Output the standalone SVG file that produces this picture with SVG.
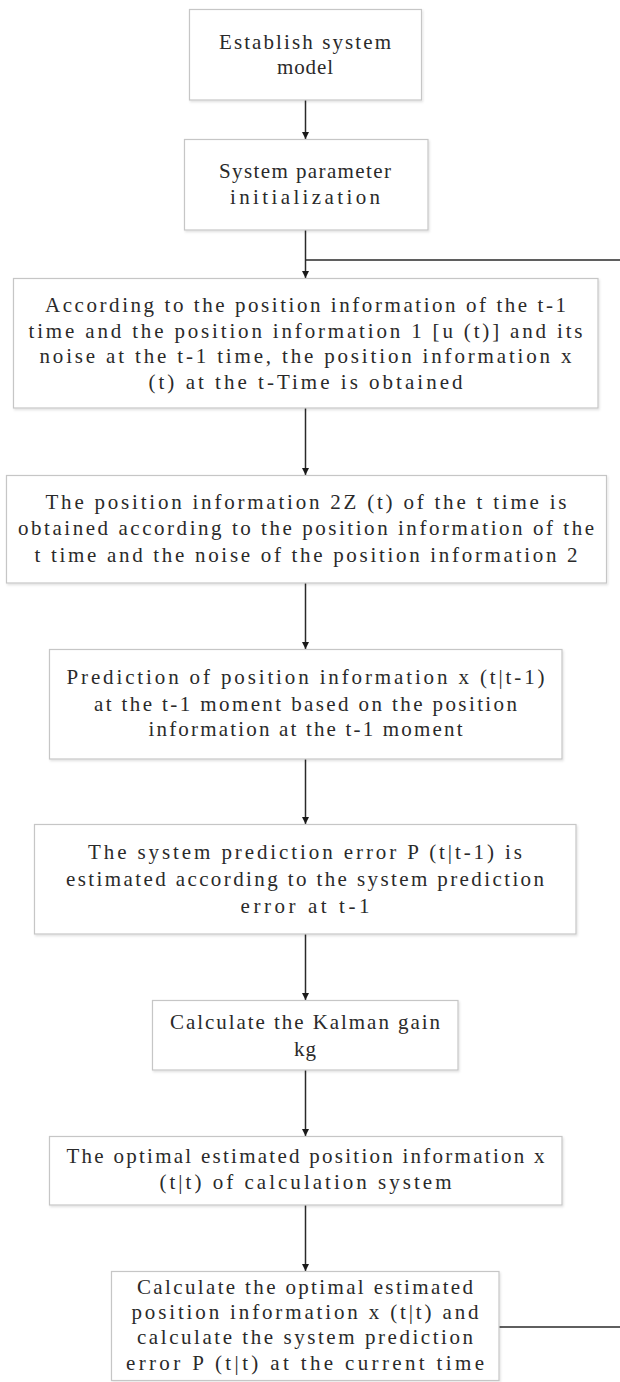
<svg xmlns="http://www.w3.org/2000/svg" width="620" height="1382" viewBox="0 0 620 1382">
<style>
.box{fill:#ffffff;stroke:#c6c6c6;stroke-width:1.2;filter:url(#sh)}
.t{font-family:"Liberation Serif","DejaVu Serif",serif;font-size:21px;fill:#2a2a2a;text-anchor:middle}
.c{fill:none;stroke:#2a2a2a;stroke-width:1.5}
.a{marker-end:url(#arr)}
</style>
<defs>
<marker id="arr" viewBox="0 0 10 10" refX="10" refY="5" markerWidth="7" markerHeight="7" markerUnits="userSpaceOnUse" orient="auto">
<path d="M0,0 L10,5 L0,10 z" fill="#1a1a1a"/>
</marker>
<filter id="sh" x="-5%" y="-5%" width="110%" height="115%">
<feDropShadow dx="1" dy="1.5" stdDeviation="1" flood-color="#000000" flood-opacity="0.12"/>
</filter>
</defs>
<g id="connectors">
<line class="c a" x1="305.5" y1="100" x2="305.5" y2="139"/>
<line class="c a" x1="305.5" y1="230" x2="305.5" y2="278"/>
<line class="c" x1="305.5" y1="260" x2="620" y2="260"/>
<line class="c a" x1="305.5" y1="408" x2="305.5" y2="475"/>
<line class="c a" x1="305.5" y1="583" x2="305.5" y2="649"/>
<line class="c a" x1="305.5" y1="759" x2="305.5" y2="824"/>
<line class="c a" x1="305.5" y1="934" x2="305.5" y2="1000"/>
<line class="c a" x1="305.5" y1="1070" x2="305.5" y2="1136"/>
<line class="c a" x1="305.5" y1="1205" x2="305.5" y2="1271"/>
<line class="c" x1="499" y1="1327" x2="620" y2="1327"/>
</g>
<g id="n1">
<rect class="box" x="189.5" y="9.5" width="232" height="90.5"/>
<text class="t" x="305" y="49" textLength="172" lengthAdjust="spacing">Establish system</text>
<text class="t" x="305" y="74" textLength="56" lengthAdjust="spacing">model</text>
</g>
<g id="n2">
<rect class="box" x="184.5" y="139.5" width="243.5" height="90.5"/>
<text class="t" x="305" y="178" textLength="172" lengthAdjust="spacing">System parameter</text>
<text class="t" x="305" y="204" textLength="150" lengthAdjust="spacing">initialization</text>
</g>
<g id="n3">
<rect class="box" x="13.5" y="278.5" width="584.5" height="129.5"/>
<text class="t" x="305.5" y="312" textLength="521" lengthAdjust="spacing">According to the position information of the t-1</text>
<text class="t" x="305.5" y="338" textLength="554" lengthAdjust="spacing">time and the position information 1 [u (t)] and its</text>
<text class="t" x="305.5" y="363" textLength="532" lengthAdjust="spacing">noise at the t-1 time, the position information x</text>
<text class="t" x="305.5" y="389" textLength="314" lengthAdjust="spacing">(t) at the t-Time is obtained</text>
</g>
<g id="n4">
<rect class="box" x="6.5" y="475.5" width="600" height="107.5"/>
<text class="t" x="306" y="509" textLength="521" lengthAdjust="spacing">The position information 2Z (t) of the t time is</text>
<text class="t" x="306" y="535" textLength="576" lengthAdjust="spacing">obtained according to the position information of the</text>
<text class="t" x="306" y="562" textLength="543" lengthAdjust="spacing">t time and the noise of the position information 2</text>
</g>
<g id="n5">
<rect class="box" x="49.5" y="649.5" width="512.5" height="109.5"/>
<text class="t" x="305.5" y="684" textLength="478" lengthAdjust="spacing">Prediction of position information x (t|t-1)</text>
<text class="t" x="305.5" y="711" textLength="423" lengthAdjust="spacing">at the t-1 moment based on the position</text>
<text class="t" x="305.5" y="736" textLength="314" lengthAdjust="spacing">information at the t-1 moment</text>
</g>
<g id="n6">
<rect class="box" x="34.5" y="824.5" width="541.5" height="109.5"/>
<text class="t" x="305" y="859" textLength="434" lengthAdjust="spacing">The system prediction error P (t|t-1) is</text>
<text class="t" x="305" y="886" textLength="478" lengthAdjust="spacing">estimated according to the system prediction</text>
<text class="t" x="305" y="913" textLength="129" lengthAdjust="spacing">error at t-1</text>
</g>
<g id="n7">
<rect class="box" x="152.5" y="1000.5" width="305.5" height="69.5"/>
<text class="t" x="305" y="1029" textLength="270" lengthAdjust="spacing">Calculate the Kalman gain</text>
<text class="t" x="305" y="1056" textLength="22" lengthAdjust="spacing">kg</text>
</g>
<g id="n8">
<rect class="box" x="49.5" y="1136.5" width="512.5" height="68.5"/>
<text class="t" x="305.5" y="1163" textLength="478" lengthAdjust="spacing">The optimal estimated position information x</text>
<text class="t" x="305.5" y="1189" textLength="292" lengthAdjust="spacing">(t|t) of calculation system</text>
</g>
<g id="n9">
<rect class="box" x="111.5" y="1271.5" width="387.5" height="109"/>
<text class="t" x="305" y="1294" textLength="336" lengthAdjust="spacing">Calculate the optimal estimated</text>
<text class="t" x="305" y="1319" textLength="347" lengthAdjust="spacing">position information x (t|t) and</text>
<text class="t" x="305" y="1344" textLength="336" lengthAdjust="spacing">calculate the system prediction</text>
<text class="t" x="305" y="1370" textLength="358" lengthAdjust="spacing">error P (t|t) at the current time</text>
</g>
</svg>
